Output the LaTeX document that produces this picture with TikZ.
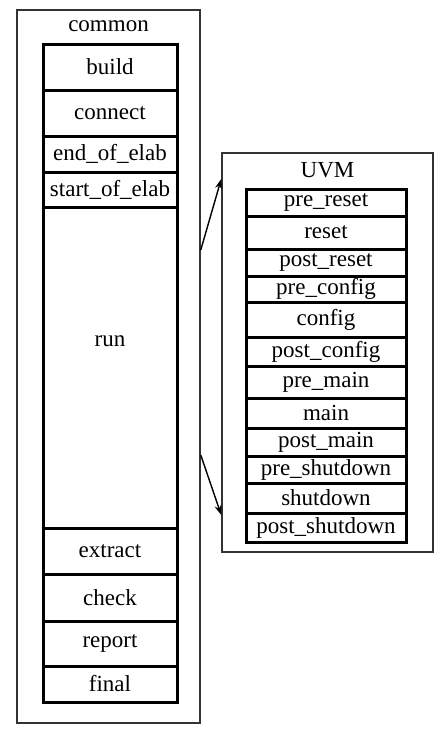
\documentclass[tikz,border=0pt]{standalone}
\usepackage{fontspec}
\setmainfont{Liberation Serif}
\usetikzlibrary{arrows.meta}

\begin{document}
\begin{tikzpicture}[x=0.5pt,y=-0.5pt,
    every node/.style={font=\fontsize{11.5}{13}\selectfont, inner sep=0pt},
    group/.style={draw=black!80, line width=0.75pt},
    phase/.style={draw, line width=1.5pt, minimum width=67pt},
    uvmphase/.style={draw, line width=1.5pt, minimum width=80pt},
    jump/.style={-{Stealth[length=5pt,width=3.5pt]}, line width=0.7pt}]

        \useasboundingbox (0,0) rectangle (446,734);

        % outer boxes
        \node[group, minimum width=91.5pt, minimum height=356.5pt] (common) at (108.5,366.5) {};
        \node (commonlbl) at (108.5,26) {common};
        \node[group, minimum width=105.5pt, minimum height=199.5pt] (uvm) at (327.5,352.5) {};
        \node (uvmlbl) at (327.5,170) {UVM};

        % common phases
        \begin{scope}[every node/.append style={phase}]
          \node[minimum height=23pt]   (build)    at (110,67)    {build};
          \node[minimum height=23pt]   (connect)  at (110,113)   {connect};
          \node[minimum height=18pt]   (endelab)  at (110,154)   {end\_of\_elab};
          \node[minimum height=17.5pt] (startelab) at (110,189.5) {start\_of\_elab};
          \node[minimum height=160.5pt] (run)     at (110,367.5) {};
          \node[minimum height=23pt]   (extract)  at (110,551)   {extract};
          \node[minimum height=23.5pt] (check)    at (110,597.5) {check};
          \node[minimum height=22.5pt] (report)   at (110,643.5) {report};
          \node[minimum height=18pt]   (final)    at (110,684)   {final};
        \end{scope}
        \node (runlbl) at (110,341) {run};

        % run-time phases
        \begin{scope}[every node/.append style={uvmphase}]
          \node[minimum height=13.5pt] (prereset)    at (326,202.5) {pre\_reset};
          \node[minimum height=16.5pt] (reset)       at (326,232.5) {reset};
          \node[minimum height=13.5pt] (postreset)   at (326,262.5) {post\_reset};
          \node[minimum height=13pt]   (preconfig)   at (326,289)   {pre\_config};
          \node[minimum height=17.5pt] (config)      at (326,319.5) {config};
          \node[minimum height=14.5pt] (postconfig)  at (326,351.5) {post\_config};
          \node[minimum height=16pt]   (premain)     at (326,382)   {pre\_main};
          \node[minimum height=15pt]   (main)        at (326,413)   {main};
          \node[minimum height=14pt]   (postmain)    at (326,442)   {post\_main};
          \node[minimum height=13.5pt] (preshutdown) at (326,469.5) {pre\_shutdown};
          \node[minimum height=15pt]   (shutdown)    at (326,498)   {shutdown};
          \node[minimum height=14.5pt] (postshutdown) at (326,527.5) {post\_shutdown};
        \end{scope}

        \coordinate (runtop) at (common.east |- {(0,250)});
        \coordinate (runbot) at (common.east |- {(0,455)});
        \coordinate (uvmtop) at (uvm.west |- {(0,179)});
        \coordinate (uvmbot) at (uvm.west |- {(0,515)});

        \draw[jump] (runtop) -- (uvmtop);
        \draw[jump] (runbot) -- (uvmbot);

      \end{tikzpicture}
\end{document}
